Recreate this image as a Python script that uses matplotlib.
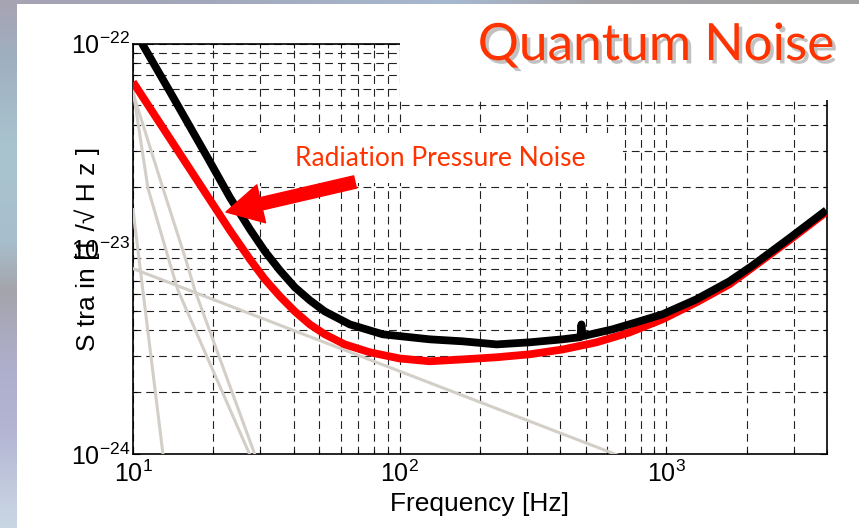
import numpy as np
import matplotlib as mpl
import matplotlib.pyplot as plt
from matplotlib import patheffects
from matplotlib.patches import Rectangle, FancyArrowPatch
from matplotlib.ticker import LogLocator, FuncFormatter, NullFormatter

NARROW = ["Liberation Sans Narrow", "Liberation Sans", "DejaVu Sans"]
mpl.rcParams.update({"font.family": NARROW, "axes.linewidth": 1.2})

# ---- values ----
# total quantum noise (black)
f_total = [10.81, 13.76, 19.1, 23.08, 27.43, 31.21, 35.53, 40.44, 46.03, 52.38,
           64.98, 86.37, 129.5, 172.2, 230.9, 306.9, 407.9, 476, 480, 485,
           627.9, 792.5, 966.0, 1295, 1722, 2082, 2889, 3975]
h_total = [1.00e-22, 5.82e-23, 2.76e-23, 1.78e-23, 1.245e-23, 9.72e-24, 7.85e-24,
           6.49e-24, 5.61e-24, 4.95e-24, 4.28e-24, 3.83e-24, 3.62e-24, 3.54e-24,
           3.42e-24, 3.50e-24, 3.62e-24, 3.71e-24, 4.28e-24, 3.75e-24, 4.05e-24,
           4.43e-24, 4.79e-24, 5.67e-24, 6.94e-24, 8.21e-24, 1.125e-23, 1.54e-23]
# radiation pressure dominated curve (red)
f_rad = [10.0, 16.63, 23.08, 27.43, 31.21, 35.53, 40.44, 46.03, 52.38, 62.23,
         77.22, 100, 129.5, 172.2, 230.9, 306.9, 407.9, 546.8, 726.8, 966.0,
         1295, 1722, 2082, 2889, 3975]
h_rad = [6.49e-23, 2.36e-23, 1.23e-23, 8.89e-24, 7.10e-24, 5.87e-24, 4.95e-24,
         4.28e-24, 3.83e-24, 3.42e-24, 3.13e-24, 2.92e-24, 2.83e-24, 2.89e-24,
         2.96e-24, 3.06e-24, 3.23e-24, 3.50e-24, 3.91e-24, 4.53e-24, 5.48e-24,
         6.71e-24, 8.03e-24, 1.10e-23, 1.51e-23]
# other noise terms (grey)
f_thermal = [10, 1000]
h_thermal = [8.0e-24, 8.0e-25]
f_seismic = [10, 10.44, 13.0]
h_seismic = [1.55e-23, 9.8e-24, 9.6e-25]
f_susp_a = [10, 11.38, 13.64, 14.74, 27.8]
h_susp_a = [5.93e-23, 1.97e-23, 8.79e-24, 6.28e-24, 9.5e-25]
f_susp_b = [10, 12.95, 15.8, 17.06, 29.0]
h_susp_b = [5.74e-23, 1.97e-23, 8.79e-24, 6.28e-24, 9.5e-25]

W, H = 859, 528
fig = plt.figure(figsize=(W / 100, H / 100), dpi=100, facecolor="white")


def fx(px):
    return px / W


def fy(py):
    return 1 - py / H


# slide background strip (left and top edge)
bg = fig.add_axes([0, 0, 1, 1], zorder=-10)
yy = np.arange(H)
xx = np.arange(W)
ystops = [0, 60, 150, 240, 290, 360, 430, 500, 528]
ycols = np.array([mpl.colors.to_rgb(c) for c in
                  ["#a7a3b3", "#9fb0c0", "#a9c4cf", "#a7bfcc", "#a4a4ac",
                   "#aeaecb", "#b3b5d3", "#c5cfe0", "#c9d6e3"]])
xstops = [0, 200, 450, 600, 859]
xcols = np.array([mpl.colors.to_rgb(c) for c in
                  ["#a7a3b3", "#a2a8ba", "#a7b8d0", "#a3a3a8", "#a0a0a0"]])
img = np.ones((H, W, 3))
left = np.stack([np.interp(yy, ystops, ycols[:, k]) for k in range(3)], axis=1)
top = np.stack([np.interp(xx, xstops, xcols[:, k]) for k in range(3)], axis=1)
img[:, :17, :] = left[:, None, :]
img[:4, :, :] = top[None, :, :]
bg.imshow(img, aspect="auto", interpolation="bilinear")
bg.axis("off")

ax = fig.add_axes([fx(133), fy(454), fx(827 - 133), (454 - 43.5) / H])
grey = "#d3cfc8"
for f, h in [(f_thermal, h_thermal), (f_seismic, h_seismic),
             (f_susp_a, h_susp_a), (f_susp_b, h_susp_b)]:
    ax.plot(f, h, color=grey, lw=2.2, zorder=3)
ax.plot(f_rad, h_rad, color="#ff0000", lw=5.6, zorder=4,
        solid_capstyle="butt", solid_joinstyle="round")
ax.plot(f_total, h_total, color="black", lw=5.6, zorder=5,
        solid_capstyle="butt", solid_joinstyle="round")

ax.set_xscale("log")
ax.set_yscale("log")
ax.set_xlim(10, 4000)
ax.set_ylim(1e-24, 1e-22)
ax.xaxis.set_major_locator(LogLocator(base=10))
ax.yaxis.set_major_locator(LogLocator(base=10))
ax.xaxis.set_minor_locator(LogLocator(base=10, subs=np.arange(2, 10)))
ax.yaxis.set_minor_locator(LogLocator(base=10, subs=np.arange(2, 10)))
fmt = FuncFormatter(lambda v, p: r"$\mathregular{10^{%d}}$" % round(np.log10(v)))
ax.xaxis.set_major_formatter(fmt)
ax.yaxis.set_major_formatter(fmt)
ax.xaxis.set_minor_formatter(NullFormatter())
ax.yaxis.set_minor_formatter(NullFormatter())
ax.grid(which="both", color="#222222", lw=0.8, ls=(0, (7, 4.5)), zorder=1)
ax.tick_params(which="both", direction="in", top=True, right=True, width=0.8)
ax.tick_params(which="major", length=5, labelsize=18)
ax.tick_params(which="minor", length=3)
ax.tick_params(axis="y", pad=2)
ax.tick_params(axis="x", pad=5)

ax.set_xlabel("Frequency [Hz]", fontsize=19, labelpad=3)
ax.set_ylabel("S tra in [1 /\u221a H z ]", fontsize=19)
ax.yaxis.set_label_coords((100 - 133) / (827 - 133), 0.5)

# white boxes of the slide covering parts of the grid
fig.patches.append(Rectangle((fx(400), fy(100)), fx(W - 400), (100 - 4) / H,
                             transform=fig.transFigure, fc="white", ec="none",
                             zorder=2))
fig.patches.append(Rectangle((fx(257), fy(183)), fx(623 - 257), 50 / H,
                             transform=fig.transFigure, fc="white", ec="none",
                             zorder=2))

orange = "#ff3300"
fig.text(fx(656), fy(46), "Quantum Noise", fontsize=37, color=orange,
         family=["Lato", "DejaVu Sans"], ha="center", va="center", zorder=4,
         path_effects=[patheffects.SimplePatchShadow(offset=(2.5, -2.5),
                                                     shadow_rgbFace="#999999",
                                                     alpha=0.6),
                       patheffects.Normal()])
fig.text(fx(440), fy(158), "Radiation Pressure Noise", fontsize=19, color=orange,
         family=["Lato", "DejaVu Sans"], ha="center", va="center", zorder=4)

arrow = FancyArrowPatch((fx(355), fy(182)), (fx(226), fy(212)),
                        transform=fig.transFigure, color="#ff0000",
                        arrowstyle="simple,head_length=1.3,head_width=1.4,tail_width=0.45",
                        mutation_scale=20, shrinkA=0, shrinkB=0, zorder=5)
fig.patches.append(arrow)

fig.savefig("out.png", dpi=100)
